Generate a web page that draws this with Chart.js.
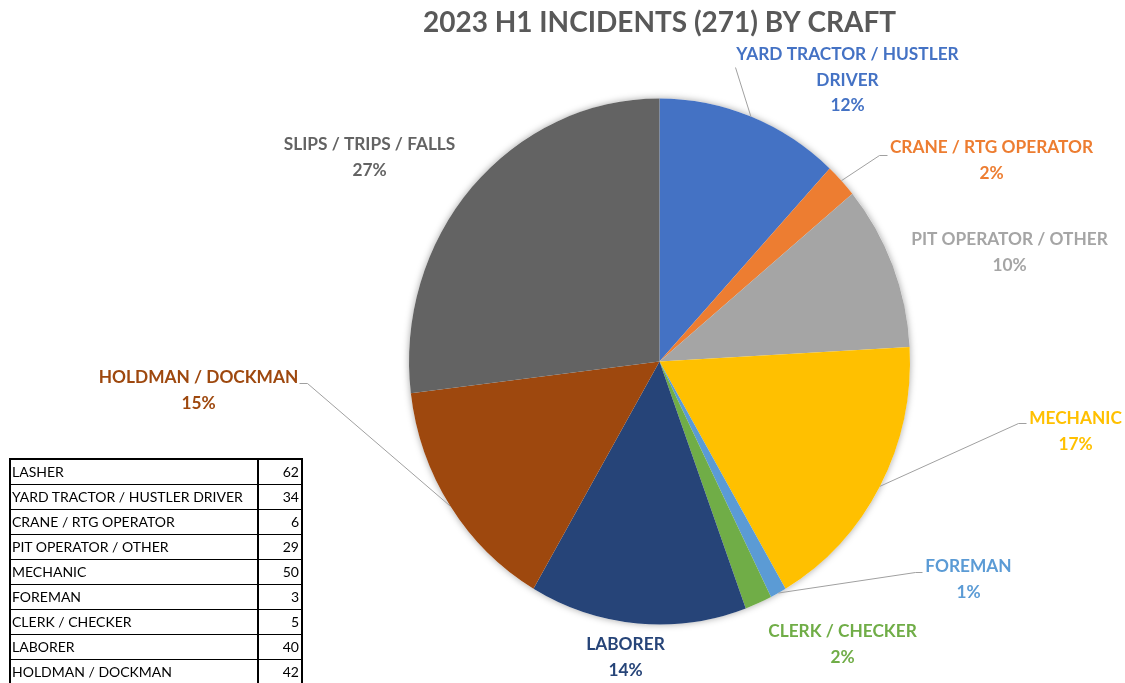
<!DOCTYPE html>
<html>
<head>
<meta charset="utf-8">
<script src="https://cdn.jsdelivr.net/npm/chart.js@4.4.0/dist/chart.umd.min.js"></script>
<style>
  html, body { margin: 0; padding: 0; background: #fff; }
  #wrap { position: relative; width: 1125px; height: 683px; overflow: hidden; }
  #chart { position: absolute; left: 0; top: 0; }
  #counts { position: absolute; left: 9px; top: 458px; border-collapse: collapse;
    border: 2px solid #000; font-family: Lato, sans-serif; font-size: 14px; color: #000; }
  #counts td { border-top: 1px solid #000; border-bottom: 1px solid #000; height: 24px;
    padding: 0 2px 0 1px; line-height: 24px; white-space: nowrap; }
  #counts td.name { width: 243px; border-right: 2px solid #000; }
  #counts td.num { width: 39px; text-align: right; }
</style>
</head>
<body>
<div id="wrap">
  <canvas id="chart" width="1125" height="683"></canvas>
  <table id="counts"></table>
</div>
<script>
// pie slices, clockwise from 12 o'clock
const pieLabels = ['YARD TRACTOR / HUSTLER DRIVER', 'CRANE / RTG OPERATOR', 'PIT OPERATOR / OTHER',
  'MECHANIC', 'FOREMAN', 'CLERK / CHECKER', 'LABORER', 'HOLDMAN / DOCKMAN', 'SLIPS / TRIPS / FALLS'];
const pieValues = [34, 6, 29, 50, 3, 5, 40, 42, 77];

// side table
const tableLabels = ['LASHER', 'YARD TRACTOR / HUSTLER DRIVER', 'CRANE / RTG OPERATOR', 'PIT OPERATOR / OTHER',
  'MECHANIC', 'FOREMAN', 'CLERK / CHECKER', 'LABORER', 'HOLDMAN / DOCKMAN'];
const tableCounts = [62, 34, 6, 29, 50, 3, 5, 40, 42];

const titleText = '2023 H1 INCIDENTS (271) BY CRAFT';

const sliceColors = ['#4472C4', '#ED7D31', '#A5A5A5', '#FFC000', '#5B9BD5', '#70AD47', '#264478', '#9E480E', '#636363'];

// label blocks, offsets from pie centre; lines = how the name wraps
const labelLayout = [
  { lines: ['YARD TRACTOR / HUSTLER', 'DRIVER'], dx: 188, dy: -307, leader: [[76, -294]] },
  { lines: ['CRANE / RTG OPERATOR'], dx: 332, dy: -214, leader: [[220, -206], [228, -206]] },
  { lines: ['PIT OPERATOR / OTHER'], dx: 350, dy: -122 },
  { lines: ['MECHANIC'], dx: 416, dy: 57, leader: [[359, 62], [367, 62]] },
  { lines: ['FOREMAN'], dx: 309, dy: 205, leader: [[256, 211], [263, 211]] },
  { lines: ['CLERK / CHECKER'], dx: 183, dy: 270 },
  { lines: ['LABORER'], dx: -34, dy: 283 },
  { lines: ['HOLDMAN / DOCKMAN'], dx: -461, dy: 16, leader: [[-352, 22], [-360, 22]] },
  { lines: ['SLIPS / TRIPS / FALLS'], dx: -290, dy: -217 }
];

const yStretch = 1.05;
const lineGap = 25.5;

// table
const tbl = document.getElementById('counts');
tableLabels.forEach((name, i) => {
  const tr = document.createElement('tr');
  tr.innerHTML = '<td class="name">' + name + '</td><td class="num">' + tableCounts[i] + '</td>';
  tbl.appendChild(tr);
});

const ellipsePie = {
  id: 'ellipsePie',
  beforeDatasetsDraw(chart) {
    const arc = chart.getDatasetMeta(0).data[0];
    const ctx = chart.ctx;
    const { x, y, outerRadius } = arc;
    ctx.save();
    ctx.shadowColor = 'rgba(0,0,0,0.35)';
    ctx.shadowBlur = 7;
    ctx.beginPath();
    ctx.ellipse(x, y, outerRadius, outerRadius * yStretch, 0, 0, Math.PI * 2);
    ctx.fillStyle = '#fff';
    ctx.fill();
    ctx.restore();
    ctx.save();
    ctx.translate(x, y);
    ctx.scale(1, yStretch);
    ctx.translate(-x, -y);
  },
  afterDatasetsDraw(chart) {
    chart.ctx.restore();
  }
};

const sliceLabels = {
  id: 'sliceLabels',
  afterDraw(chart) {
    const ctx = chart.ctx;
    const meta = chart.getDatasetMeta(0);
    const cx = meta.data[0].x, cy = meta.data[0].y;
    const total = pieValues.reduce((a, b) => a + b, 0);
    ctx.save();
    ctx.textAlign = 'center';
    ctx.textBaseline = 'middle';
    ctx.fillStyle = '#595959';
    ctx.font = 'bold 28px Lato';
    ctx.fillText(titleText, cx, 23);

    ctx.font = 'bold 17.3px Lato';
    meta.data.forEach((arc, i) => {
      const lay = labelLayout[i];
      const mid = (arc.startAngle + arc.endAngle) / 2;
      const ex = cx + Math.cos(mid) * arc.outerRadius;
      const ey = cy + Math.sin(mid) * arc.outerRadius * yStretch;
      if (lay.leader) {
        ctx.strokeStyle = '#A0A0A0';
        ctx.lineWidth = 1;
        ctx.beginPath();
        ctx.moveTo(ex, ey);
        lay.leader.forEach(p => ctx.lineTo(cx + p[0], cy + p[1]));
        ctx.stroke();
      }
      ctx.fillStyle = sliceColors[i];
      const lx = cx + lay.dx;
      let ly = cy + lay.dy;
      lay.lines.forEach(t => { ctx.fillText(t, lx, ly); ly += lineGap; });
      ctx.fillText(Math.round(pieValues[i] / total * 100) + '%', lx, ly);
    });
    ctx.restore();
  }
};

new Chart(document.getElementById('chart'), {
  type: 'pie',
  data: {
    labels: pieLabels,
    datasets: [{
      data: pieValues,
      backgroundColor: sliceColors,
      borderWidth: 0,
      hoverOffset: 0
    }]
  },
  options: {
    responsive: false,
    animation: false,
    layout: { padding: { left: 409, right: 215, top: 111, bottom: 71 } },
    plugins: {
      legend: { display: false },
      tooltip: { enabled: false }
    }
  },
  plugins: [ellipsePie, sliceLabels]
});
</script>
</body>
</html>
